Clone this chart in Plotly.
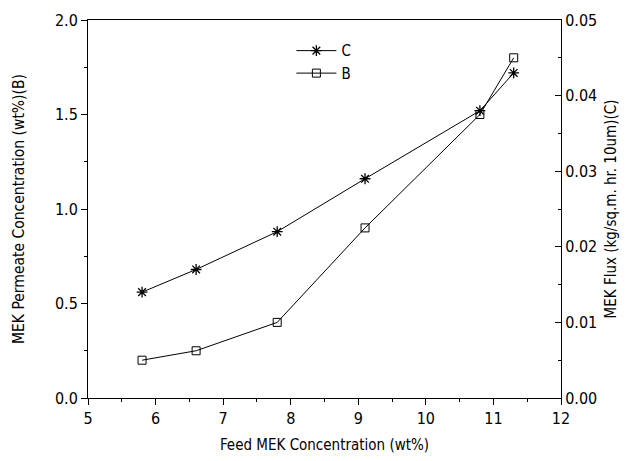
import plotly.graph_objects as go

feed = [5.8, 6.6, 7.8, 9.1, 10.8, 11.3]
permeate_B = [0.20, 0.25, 0.40, 0.90, 1.50, 1.80]
flux_C = [0.014, 0.017, 0.022, 0.029, 0.038, 0.043]

FONT = "DejaVu Sans Condensed"

fig = go.Figure()
fig.add_trace(go.Scatter(
    x=feed, y=flux_C, name="C", yaxis="y2", mode="lines+markers",
    line=dict(color="black", width=1),
    marker=dict(symbol="asterisk-open", size=9, color="black", line=dict(width=1.3, color="black")),
))
fig.add_trace(go.Scatter(
    x=feed, y=permeate_B, name="B", mode="lines+markers",
    line=dict(color="black", width=1),
    marker=dict(symbol="square-open", size=8, color="black", line=dict(width=1, color="black")),
))

axis_common = dict(showgrid=False, zeroline=False, linecolor="black", linewidth=1, automargin=False,
                   tickcolor="black", tickfont=dict(size=16, family=FONT, color="black"))

fig.update_layout(
    width=624, height=453,
    margin=dict(l=80, r=71, t=12, b=63),
    paper_bgcolor="white", plot_bgcolor="white",
    font=dict(family=FONT, color="black"),
    showlegend=True,
    legend=dict(x=0.43, y=0.962, xanchor="left", yanchor="top", bgcolor="rgba(0,0,0,0)",
                font=dict(size=15, family=FONT), itemwidth=40, tracegroupgap=0),
    xaxis=dict(range=[5, 12], dtick=1, ticks="outside", ticklen=6, mirror=True,
               minor=dict(dtick=0.5, ticks="outside", ticklen=3, tickcolor="black"),
               title=dict(text="Feed MEK Concentration (wt%)", font=dict(size=15, family=FONT), standoff=12),
               **axis_common),
    yaxis=dict(range=[0, 2.0], dtick=0.5, tickformat=".1f", ticks="outside", ticklen=6,
               minor=dict(dtick=0.25, ticks="outside", ticklen=3, tickcolor="black"),
               title=dict(text="MEK Permeate Concentration (wt%)(B)", font=dict(size=15.5, family=FONT), standoff=26),
               **axis_common),
    yaxis2=dict(range=[0, 0.05], dtick=0.01, tickformat=".2f", ticks="inside", ticklen=6,
                overlaying="y", side="right",
                minor=dict(dtick=0.005, ticks="inside", ticklen=3, tickcolor="black"),
                title=dict(text="MEK Flux (kg/sq.m. hr. 10um)(C)", font=dict(size=15, family=FONT), standoff=9),
                **axis_common),
)

fig.write_html("out.html")
